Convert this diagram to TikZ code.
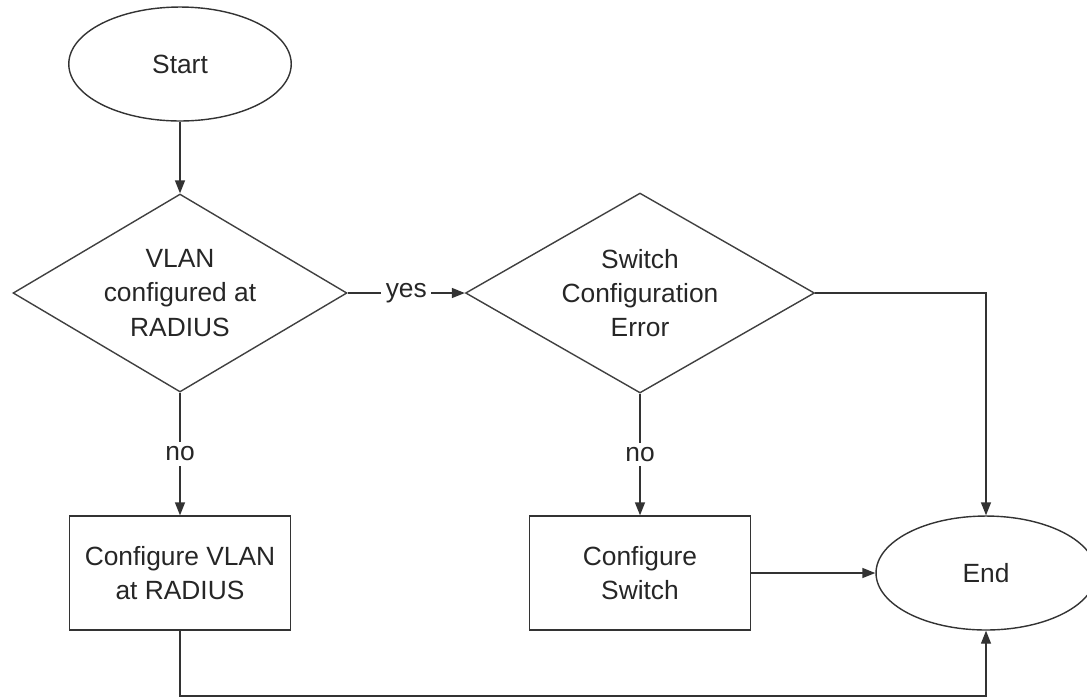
\documentclass[tikz,border=0pt]{standalone}
\usepackage{fontspec}
\setmainfont{Liberation Sans}
\usetikzlibrary{shapes.geometric, arrows.meta, positioning}

\begin{document}
\begin{tikzpicture}[x=0.02cm, y=-0.02cm, >={Triangle[length=2.6mm,width=2mm]},
  line width=0.8pt, draw=black!80,
  every node/.style={font=\fontsize{15}{19.5}\selectfont, text=black!85, align=center},
  terminal/.style={ellipse, draw=black!80, minimum width=4.45cm, minimum height=2.28cm, inner sep=0pt},
  decision/.style={diamond, draw=black!75, aspect=1.75, inner sep=0pt},
  process/.style={rectangle, draw=black!80, minimum width=4.42cm, minimum height=2.28cm},
  flowlabel/.style={fill=white, inner sep=2.5pt}]
\useasboundingbox (0,0) rectangle (1087,698);
% terminals
\node[terminal] (start) at (180,64) {Start};
\node[terminal, minimum width=4.4cm] (end) at (986,573) {End};
% decisions
\node[decision, minimum width=6.68cm, minimum height=3.96cm] (vlan) at (180,293) {VLAN\\configured at\\RADIUS};
\node[decision, minimum width=6.98cm, minimum height=4cm] (switch) at (640,293) {Switch\\Configuration\\Error};
% processes
\node[process] (cfgvlan) at (180,573) {Configure VLAN\\at RADIUS};
\node[process] (cfgswitch) at (640,573) {Configure\\Switch};
\coordinate (bottom) at (180,696);
% connectors
\draw[->] (start) -- (vlan);
\draw[->] (vlan) -- node[flowlabel] {yes} (switch);
\draw[->] (vlan) -- node[flowlabel] {no} (cfgvlan);
\draw[->] (switch) -- node[flowlabel] {no} (cfgswitch);
\draw[->] (switch.east) -| (end.north);
\draw[->] (cfgswitch) -- (end);
\draw[->] (cfgvlan.south) -- (bottom) -| (end.south);
\end{tikzpicture}
\end{document}
